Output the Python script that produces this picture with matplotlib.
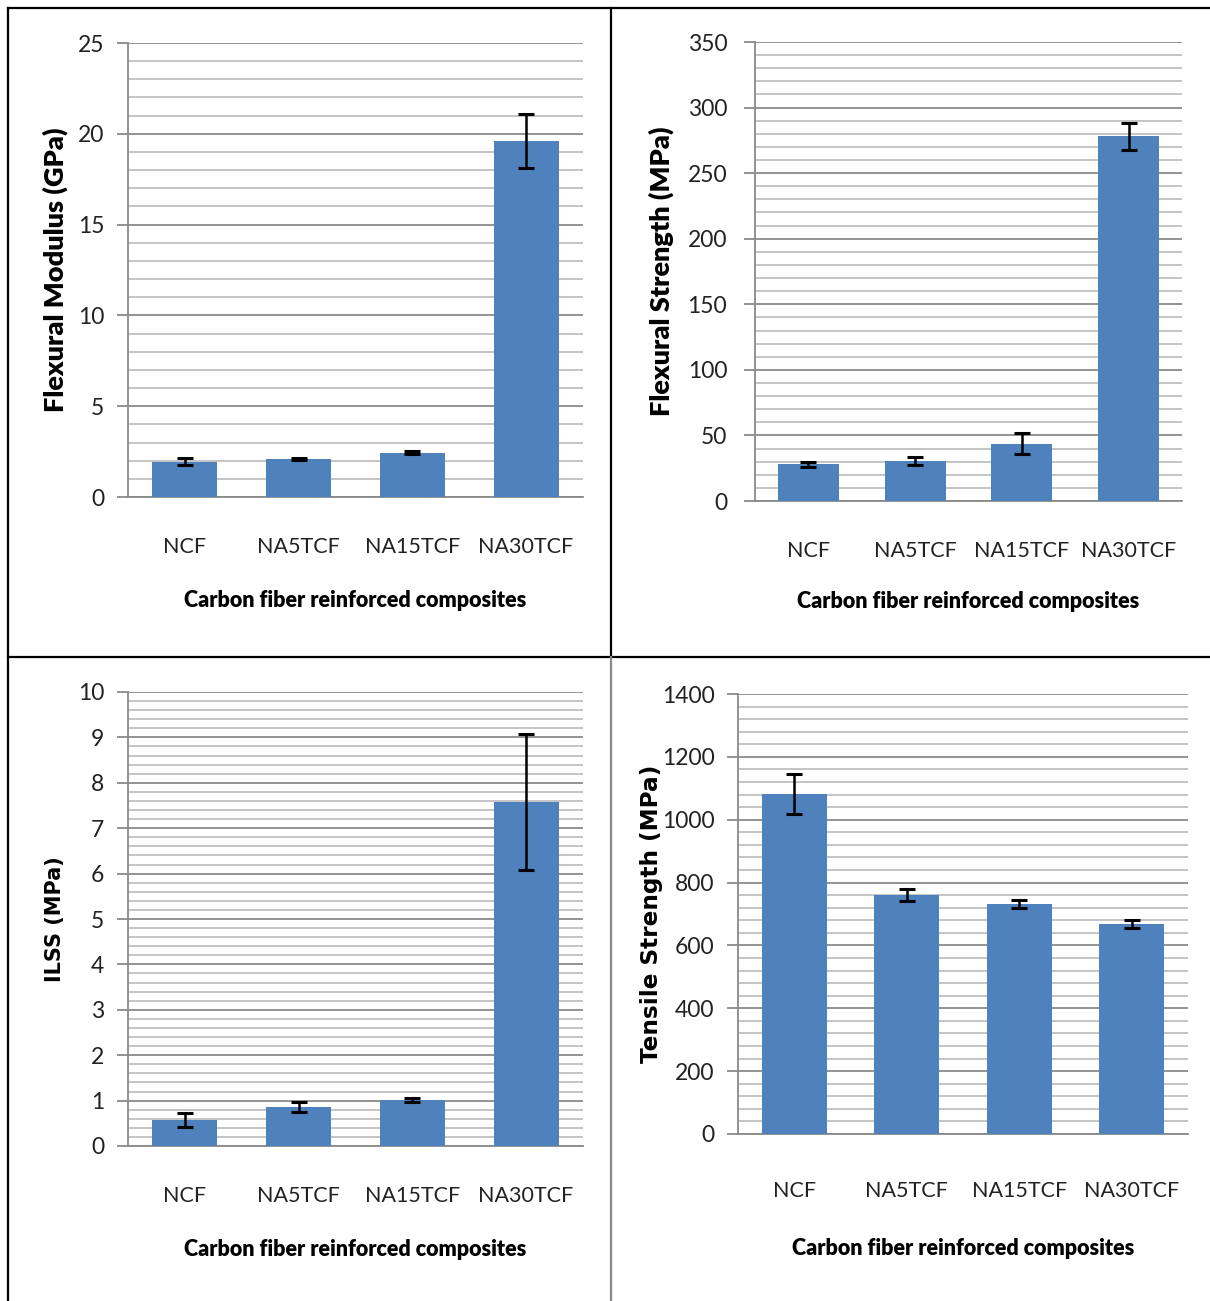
import numpy as np
import matplotlib
matplotlib.use("Agg")
import matplotlib.pyplot as plt
from matplotlib.lines import Line2D
from matplotlib.ticker import MultipleLocator

# data
categories = ["NCF", "NA5TCF", "NA15TCF", "NA30TCF"]

flex_modulus = [1.95, 2.1, 2.45, 19.6]
flex_modulus_err = [0.2, 0.07, 0.1, 1.5]

flex_strength = [28, 30.5, 43.5, 278]
flex_strength_err = [2, 3, 8, 10]

ilss = [0.57, 0.86, 1.01, 7.58]
ilss_err = [0.16, 0.12, 0.05, 1.5]

tensile = [1082, 760, 732, 668]
tensile_err = [64, 18, 14, 14]

W, H = 1210, 1301
fig = plt.figure(figsize=(W / 100, H / 100), dpi=100)

bar_color = "#4F81BD"
tick_font = "Lato"
xlabel_text = "Carbon fiber reinforced composites"


def px_rect(l, t, r, b):
    return [l / W, 1 - b / H, (r - l) / W, (b - t) / H]


def panel(rect, vals, errs, ymax, major, minor, ylabel, ylab_font, ylab_size,
          ypad, ylab_x, xtick_pad, xlab_y, bar_w):
    ax = fig.add_axes(px_rect(*rect))
    x = np.arange(len(categories))
    ax.bar(x, vals, width=bar_w, color=bar_color, zorder=3)
    ax.errorbar(x, vals, yerr=errs, fmt="none", ecolor="black",
                elinewidth=1.8, capsize=6, capthick=2.2, zorder=4)
    ax.set_xlim(-0.5, len(categories) - 0.5)
    ax.set_ylim(0, ymax)
    ax.yaxis.set_major_locator(MultipleLocator(major))
    ax.yaxis.set_minor_locator(MultipleLocator(minor))
    ax.grid(axis="y", which="major", color="#8a8a8a", lw=1.3, zorder=0)
    ax.grid(axis="y", which="minor", color="#b4b4b4", lw=1.1, zorder=0)
    ax.set_axisbelow(True)
    for s in ["top", "right"]:
        ax.spines[s].set_visible(False)
    for s in ["left", "bottom"]:
        ax.spines[s].set_color("#8a8a8a")
        ax.spines[s].set_linewidth(1.3)
    ax.tick_params(axis="y", which="major", length=8, width=1.3,
                   color="#8a8a8a", pad=ypad)
    ax.tick_params(axis="y", which="minor", length=0)
    ax.tick_params(axis="x", length=0, pad=xtick_pad)
    ax.set_xticks(x)
    ax.set_xticklabels(categories)
    for lab in ax.get_yticklabels():
        lab.set_fontfamily(tick_font)
        lab.set_fontsize(16.5)
        lab.set_color("#222222")
    for lab in ax.get_xticklabels():
        lab.set_fontfamily(tick_font)
        lab.set_fontsize(15.5)
        lab.set_color("#222222")
    ax.set_ylabel(ylabel, fontsize=ylab_size, fontweight="heavy",
                  family=ylab_font)
    ax.yaxis.set_label_coords(ylab_x, 0.5)
    ax.yaxis.label.set_va("center")
    ax.set_xlabel(xlabel_text, fontsize=15.5, fontweight="heavy",
                  family=tick_font)
    ax.xaxis.set_label_coords(0.5, xlab_y)
    ax.xaxis.label.set_va("center")
    return ax


panel((128, 43, 583, 497), flex_modulus, flex_modulus_err, 25, 5, 1,
      "Flexural Modulus (GPa)", "Lato", 19.5, 9, -0.160, 29, -0.229, 0.57)
panel((755, 42, 1182, 501), flex_strength, flex_strength_err, 350, 50, 10,
      "Flexural Strength (MPa)", "Lato", 19.5, 12, -0.220, 29, -0.220, 0.57)
panel((128, 692, 583, 1146), ilss, ilss_err, 10, 1, 0.2,
      "ILSS (MPa)", "DejaVu Sans", 15, 9, -0.160, 29, -0.229, 0.57)
panel((738, 694, 1188, 1134), tensile, tensile_err, 1400, 200, 40,
      "Tensile Strength (MPa)", "DejaVu Sans", 16.7, 9, -0.193, 34, -0.261,
      0.58)


# panel borders
def fig_line(x0, y0, x1, y1, color="black", lw=1.6):
    fig.add_artist(Line2D([x0 / W, x1 / W], [1 - y0 / H, 1 - y1 / H],
                          color=color, lw=lw, transform=fig.transFigure))


fig_line(8, 8, W, 8)
fig_line(8, 8, 8, H)
fig_line(8, 657, W, 657)
fig_line(611, 8, 611, 657)
fig_line(611, 657, 611, H, color="#8a8a8a")

fig.savefig("out.png", dpi=100, facecolor="white")
